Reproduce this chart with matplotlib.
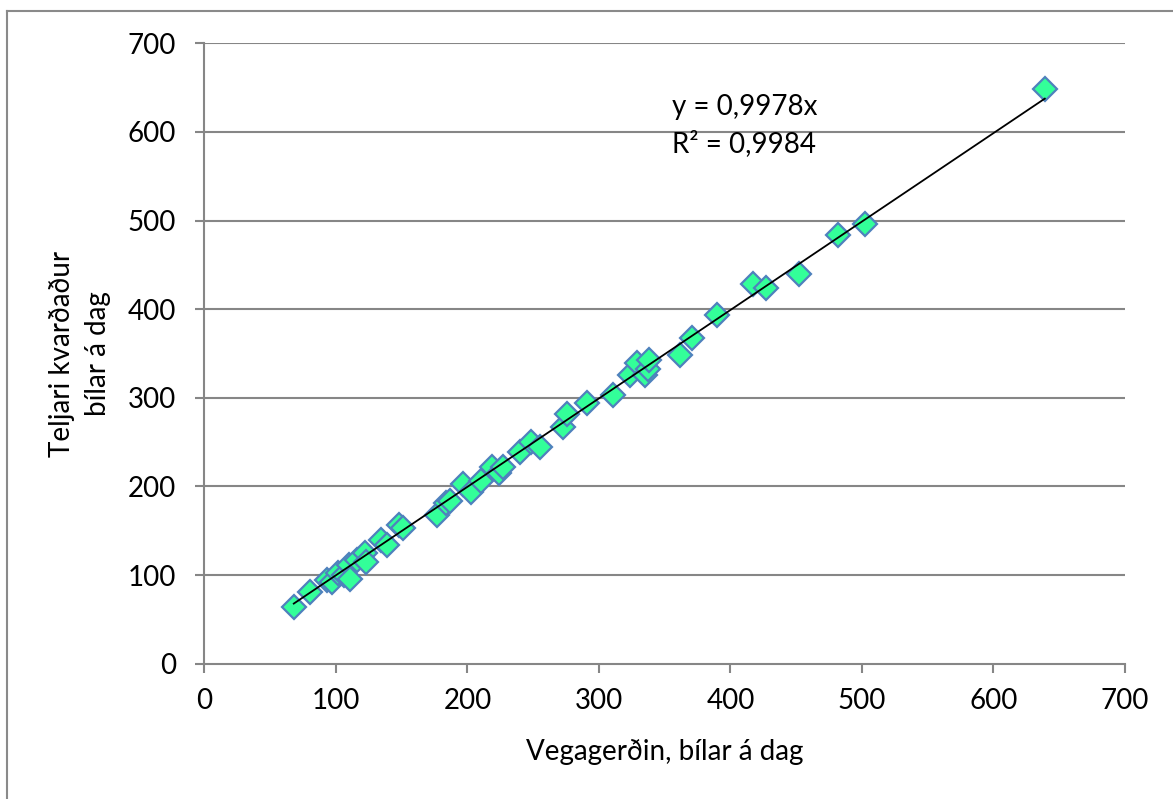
import numpy as np
import matplotlib.pyplot as plt
from matplotlib.lines import Line2D

# Vegagerðin (x) vs. teljari kvarðaður (y), bílar á dag
vegagerdin = [68, 80, 93, 97, 102, 106, 110, 111, 116, 122, 123, 134, 139, 148, 151,
              177, 184, 187, 197, 203, 210, 219, 224, 227, 240, 248, 255, 273, 276,
              291, 311, 324, 329, 335, 337, 338, 362, 371, 390, 417, 427, 452, 482,
              502, 639]
teljari = [64, 81, 94, 92, 102, 100, 111, 96, 117, 125, 115, 140, 134, 156, 153,
           168, 181, 184, 203, 194, 206, 222, 215, 222, 239, 250, 245, 267, 282,
           294, 303, 326, 339, 326, 332, 343, 348, 367, 393, 428, 424, 440, 484,
           496, 648]
slope = 0.9978
trend_label = "y = 0,9978x\nR² = 0,9984"

plt.rcParams['font.family'] = ['Lato', 'DejaVu Sans']
fs = 20

fig = plt.figure(figsize=(11.73, 7.99), dpi=100)
ax = fig.add_axes([0.1742, 0.1693, 0.9591 - 0.1742, 0.9458 - 0.1693])

grid_col = '#868686'
for yv in range(100, 800, 100):
    ax.axhline(yv, color=grid_col, lw=1.5, zorder=1)

x = np.array(vegagerdin)
xl = np.array([x.min(), x.max()])
ax.plot(xl, slope * xl, color='black', lw=1.3, zorder=3)
ax.plot(vegagerdin, teljari, linestyle='none', marker='D', markersize=12.5,
        markerfacecolor='#33FF99', markeredgecolor='#4F81BD', markeredgewidth=1.6,
        zorder=2)

ax.set_xlim(0, 700)
ax.set_ylim(0, 700)
ax.set_xticks(range(0, 800, 100))
ax.set_yticks(range(0, 800, 100))
for s in ['top', 'right']:
    ax.spines[s].set_visible(False)
for s in ['left', 'bottom']:
    ax.spines[s].set_color(grid_col)
    ax.spines[s].set_linewidth(1.5)
ax.tick_params(direction='out', length=6.5, width=1.5, color=grid_col,
               labelsize=fs)
ax.tick_params(axis='y', pad=14)
ax.tick_params(axis='x', pad=11)

ax.set_xlabel('Vegagerðin, bílar á dag', fontsize=fs, labelpad=18)
ax.set_ylabel('Teljari kvarðaður\nbílar á dag', fontsize=fs, labelpad=12,
              linespacing=1.45)

ax.text(0.508, 0.868, trend_label, transform=ax.transAxes, fontsize=fs,
        va='center', ha='left', linespacing=1.45)

# chart area border (left and top)
fig.add_artist(Line2D([7 / 1173, 7 / 1173], [0, 1 - 10.5 / 799], color='#8a8a8a', lw=1.5))
fig.add_artist(Line2D([7 / 1173, 1], [1 - 10.5 / 799, 1 - 10.5 / 799], color='#8a8a8a', lw=1.5))

fig.savefig('out.png', dpi=100)
